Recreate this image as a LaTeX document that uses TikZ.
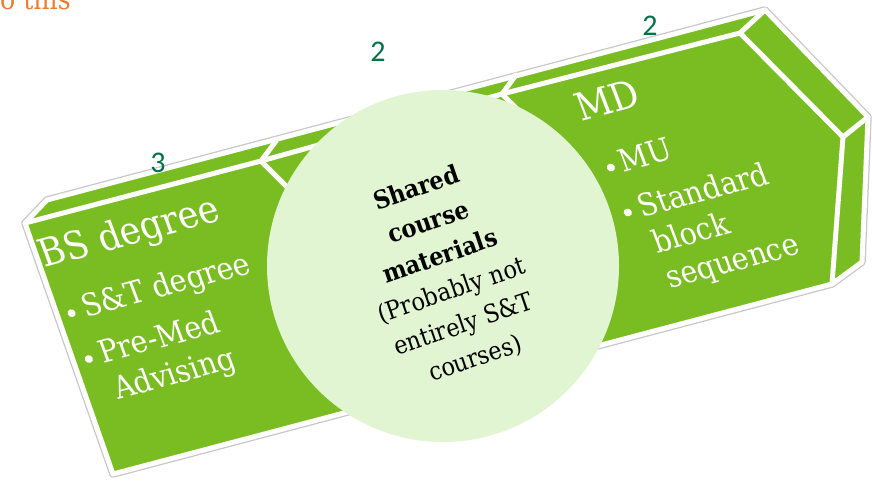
\documentclass[tikz,border=0pt]{standalone}
\usepackage{fontspec}
\setmainfont{DejaVu Serif}[FakeStretch=0.9]
\newfontfamily\numfont{Carlito}
\definecolor{blockgreen}{RGB}{122,189,34}
\definecolor{circlegreen}{RGB}{226,245,210}
\definecolor{numgreen}{RGB}{0,114,70}
\definecolor{titleorange}{RGB}{237,125,49}
\tikzset{
  whiteline/.style={white,line width=5pt,line join=round,line cap=round},
  headtext/.style={white,font=\fontsize{39}{39}\selectfont,anchor=base west,inner sep=0pt},
  itemtext/.style={white,font=\fontsize{31.5}{31.5}\selectfont,anchor=base west,inner sep=0pt},
  bulletdot/.style={circle,fill=white,minimum size=8pt,inner sep=0pt},
  numlabel/.style={numgreen,font=\numfont\fontsize{30}{30}\selectfont,inner sep=0pt},
  skew/.style={cm={0.966,0.259,-0.352,0.936,(0,0)},transform shape}
}
\begin{document}
\begin{tikzpicture}[x=1pt,y=-1pt]
    \useasboundingbox (0,0) rectangle (872,483);
    \clip (0,0) rectangle (872,483);

    \coordinate (T1) at (47,200);
    \coordinate (T2) at (765,10);
    \coordinate (R1) at (868,117);
    \coordinate (R2) at (862,262);
    \coordinate (F1) at (25,223);
    \coordinate (F2) at (740,33);
    \coordinate (F3) at (843,137);
    \coordinate (F4) at (832,284);
    \coordinate (F5) at (113,474);
    \coordinate (J1) at (261,161);
    \coordinate (J1b) at (276,141);
    \coordinate (J1c) at (300,200);
    \coordinate (J2) at (502,94);
    \coordinate (J2b) at (516,75);
    \coordinate (J2c) at (540,132);

    \draw[gray!45,line width=7.5pt,line join=round] (T1) -- (T2) -- (R1) -- (R2) -- (F4) -- (F5) -- (F1) -- cycle;
    \fill[blockgreen] (T1) -- (T2) -- (R1) -- (R2) -- (F4) -- (F5) -- (F1) -- cycle;
    \draw[whiteline] (T1) -- (T2) -- (R1) -- (R2) -- (F4) -- (F5) -- (F1) -- cycle;
    \draw[whiteline] (F1) -- (J1) -- (J2) -- (F2) -- (F3) -- (F4);
    \draw[whiteline] (T2) -- (F2);
    \draw[whiteline] (R1) -- (F3);
    \draw[whiteline] (J1b) -- (J1) -- (J1c);
    \draw[whiteline] (J2b) -- (J2) -- (J2c);

    \node[circle,fill=circlegreen,minimum size=352pt,inner sep=0pt,outer sep=0pt] (shared) at (443,266) {};
    \node[rotate=19,align=center,font=\fontsize{25}{33}\selectfont,inner sep=0pt] (sharedtext) at (446,274)
        {\textbf{Shared}\\[3pt]\textbf{course}\\[3pt]\textbf{materials}\\[3pt](Probably not\\[3pt]entirely S\&T\\[3pt]courses)};

    \node[numlabel] (segA) at (158,163) {3};
    \node[numlabel] (segB) at (378,52) {2};
    \node[numlabel] (segC) at (650,26) {2};

    \node[titleorange,font=\fontsize{28}{28}\selectfont,anchor=base west,inner sep=0pt] (cut) at (0,9.5) {o this};

    \begin{scope}[shift={(44,268)},skew]
        \node[headtext] (bs) at (0,0) {BS degree};
        \node[bulletdot] (bsdotA) at (10,51) {};
        \node[itemtext] (bsA) at (22,59) {S\&T degree};
        \node[bulletdot] (bsdotB) at (10,100) {};
        \node[itemtext] (bsB) at (22,108) {Pre-Med};
        \node[itemtext] (bsC) at (23,147) {Advising};
    \end{scope}

    \begin{scope}[shift={(581,122)},skew]
        \node[headtext] (md) at (0,0) {MD};
        \node[bulletdot] (mddotA) at (12,52) {};
        \node[itemtext] (mdA) at (22,60) {MU};
        \node[bulletdot] (mddotB) at (12,100) {};
        \node[itemtext] (mdB) at (24,109) {Standard};
        \node[itemtext] (mdC) at (25,147) {block};
        \node[itemtext] (mdD) at (25,185) {sequence};
    \end{scope}
\end{tikzpicture}
\end{document}
